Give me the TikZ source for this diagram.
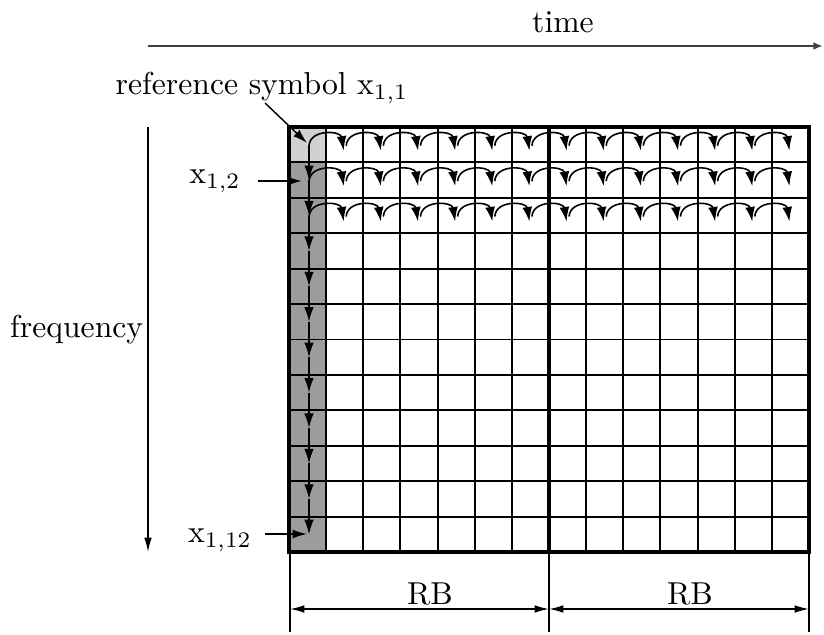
\documentclass[tikz,border=0pt]{standalone}
\usetikzlibrary{arrows.meta,calc}
\definecolor{refcell}{gray}{0.82}
\definecolor{pilotcol}{gray}{0.61}
\definecolor{axisgray}{gray}{0.25}
\begin{document}
\begin{tikzpicture}[x=0.3155pt,y=-0.3155pt,
  gridline/.style={black,line width=0.6pt},
  border/.style={black,line width=1pt},
  chain/.style={black,line width=0.45pt,-{Latex[length=4.6pt,width=3pt]}},
  hop/.style={black,line width=0.5pt,-{Latex[length=4.6pt,width=3.1pt]}},
  pointer/.style={black,line width=0.45pt,-{Latex[length=4.5pt,width=2.8pt]}},
  axis/.style={axisgray,line width=0.65pt,-{Latex[length=3pt,width=2.4pt]}},
  dim/.style={black,line width=0.45pt,{Latex[length=4.5pt,width=2.4pt]}-{Latex[length=4.5pt,width=2.4pt]}},
  tick/.style={black,line width=0.45pt},
  lbl/.style={inner sep=1pt}]
\useasboundingbox (0,0) rectangle (824,635);

% grid geometry
\def\gx{289}\def\gy{127}\def\cw{37.1429}\def\rh{35.4167}
\coordinate (gtl) at (289,127);
\coordinate (gbr) at (809,552);
\coordinate (gmidtop) at (549,127);
\coordinate (gmidbot) at (549,552);

% shaded first column
\fill[pilotcol] (289,{127+\rh}) rectangle ({289+\cw},552);
\fill[refcell] (289,127) rectangle ({289+\cw},{127+\rh});

% cell lines
\foreach \c in {1,...,13}
  \draw[gridline] ({\gx+\c*\cw},\gy) -- ({\gx+\c*\cw},552);
\foreach \r in {1,...,11}
  \draw[gridline] (\gx,{\gy+\r*\rh}) -- (809,{\gy+\r*\rh});
\draw[border] (gtl) rectangle (gbr);
\draw[border] (gmidtop) -- (gmidbot);

% cell centres
\foreach \r in {1,...,12}
  \foreach \c in {1,...,14}
    \coordinate (p\r-\c) at ({\gx+(\c-0.5)*\cw},{\gy+(\r-0.5)*\rh});

% chain down the first column
\foreach \r in {1,...,12}
  \coordinate (q\r) at ({\gx+20},{\gy+(\r-0.5)*\rh});
\foreach \r in {1,...,11}{
  \pgfmathtruncatemacro\nr{\r+1}
  \draw[chain] (q\r) -- (q\nr);
}

% hops along the first three rows
\foreach \r in {1,2,3}
  \foreach \c in {1,...,13}{
    \pgfmathtruncatemacro\nc{\c+1}
    \draw[hop] ($(p\r-\c)+(1.5,1)$) .. controls +(1,-17) and +(-3,-20) .. ($(p\r-\nc)+(-1,6)$);
  }

% time axis
\coordinate (t0) at (148,46);
\coordinate (t1) at (823,46);
\draw[axis] (t0) -- (t1);
\node[lbl] (time) at (563,22) {time};

% frequency axis
\coordinate (f0) at (148,127);
\coordinate (f1) at (148,552);
\draw[tick,-{Latex[length=4.5pt,width=2.4pt]}] (f0) -- (f1);
\node[lbl,anchor=east] (freq) at (147,330) {frequency};

% labels pointing into the first column
\node[lbl] (refsym) at (262,88) {reference symbol $\mathrm{x}_{1,1}$};
\coordinate (rs0) at (265,103);
\coordinate (rs1) at (307,143);
\draw[pointer] (rs0) -- (rs1);

\node[lbl] (x12) at (215,181) {$\mathrm{x}_{1,2}$};
\coordinate (a12) at (258,181);
\coordinate (b12) at (302,181);
\draw[pointer] (a12) -- (b12);

\node[lbl] (x112) at (220,540) {$\mathrm{x}_{1,12}$};
\coordinate (a112) at (265,534);
\coordinate (b112) at (307,534);
\draw[pointer] (a112) -- (b112);

% resource block dimensions
\coordinate (d0) at (290,552);
\coordinate (d1) at (549,552);
\coordinate (d2) at (809,552);
\coordinate (e0) at (290,632);
\coordinate (e1) at (549,632);
\coordinate (e2) at (809,632);
\draw[tick] (d0) -- (e0);
\draw[tick] (d1) -- (e1);
\draw[tick] (d2) -- (e2);
\coordinate (m0) at (290,609);
\coordinate (m1) at (549,609);
\coordinate (m2) at (809,609);
\draw[dim] (m0) -- (m1);
\draw[dim] (m1) -- (m2);
\node[lbl] (rb1) at (430,594) {RB};
\node[lbl] (rb2) at (690,594) {RB};
\end{tikzpicture}
\end{document}
